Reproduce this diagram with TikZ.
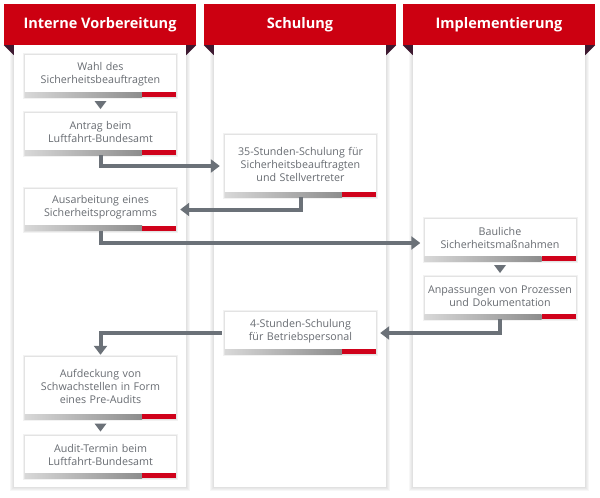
\documentclass[tikz,border=0pt]{standalone}
\usepackage{fontspec}
\setmainfont{Open Sans}
\usetikzlibrary{arrows.meta,calc}

\definecolor{headred}{HTML}{CC0011}
\definecolor{barred}{HTML}{D0021B}
\definecolor{folddark}{HTML}{3D1930}
\definecolor{txtgray}{HTML}{686C72}
\definecolor{flowgray}{HTML}{6B7178}
\definecolor{barlight}{HTML}{D8D8D8}
\definecolor{bardark}{HTML}{8C8C8C}

\begin{document}
\begin{tikzpicture}[x=1pt,y=-1pt,
  colhead/.style={fill=headred,text=white,font=\fontsize{14.5}{16}\selectfont\bfseries,
    minimum width=192pt,minimum height=41pt,inner sep=0pt},
  stepbox/.style={fill=white,text=txtgray,font=\fontsize{10.7}{13}\selectfont,
    text width=150pt,align=center,minimum width=151pt,minimum height=42pt,inner sep=0pt,
    execute at end node={\endgraf\vskip4pt\hrule height0pt width0pt},
    preaction={draw=black,draw opacity=.05,line width=4pt},
    preaction={draw=black,draw opacity=.06,line width=2pt}},
  tallbox/.style={stepbox,minimum height=62pt},
  flow/.style={draw=flowgray,line width=4pt,-{Triangle[length=9pt,width=13pt]}}]
\useasboundingbox (0,0) rectangle (600,498);

% column heads
\node[colhead] (vorb) at (100,24.5) {Interne Vorbereitung};
\node[colhead] (schul) at (300,24.5) {Schulung};
\node[colhead] (impl) at (499,24.5) {Implementierung};

% column bodies with shadow and folds
\foreach \h in {vorb,schul,impl}{
  \foreach \s in {4,3,2,1}
    \fill[black,opacity=.03] ($(\h.south west)+(10-\s,0)$) rectangle ($(\h.south east)+(-10+\s,442+\s)$);
  \fill[white] ($(\h.south west)+(10,0)$) rectangle ($(\h.south east)+(-10,442)$);
  \fill[folddark] (\h.south west) -- ++(10,0) -- ++(0,10) -- cycle;
  \fill[folddark] (\h.south east) -- ++(-10,0) -- ++(0,10) -- cycle;
}

% steps
\node[stepbox] (wahl) at (100.5,76) {Wahl des\\Sicherheitsbeauftragten};
\node[stepbox] (antrag) at (100.5,134) {Antrag beim\\Luftfahrt-Bundesamt};
\node[tallbox] (schulungA) at (300.5,166) {35-Stunden-Schulung für\\Sicherheitsbeauftragten\\und Stellvertreter};
\node[stepbox] (ausarb) at (100.5,209.5) {Ausarbeitung eines\\Sicherheitsprogramms};
\node[stepbox] (baulich) at (500,240) {Bauliche\\Sicherheitsmaßnahmen};
\node[stepbox] (anpass) at (500,298) {Anpassungen von Prozessen\\und Dokumentation};
\node[stepbox] (schulungB) at (300.5,333) {4-Stunden-Schulung\\für Betriebspersonal};
\node[tallbox] (aufdeck) at (100.5,388) {Aufdeckung von\\Schwachstellen in Form\\eines Pre-Audits};
\node[stepbox] (audit) at (100.5,457) {Audit-Termin beim\\Luftfahrt-Bundesamt};

% bars
\foreach \n in {wahl,antrag,schulungA,ausarb,baulich,anpass,schulungB,aufdeck,audit}{
  \shade[left color=barlight,right color=bardark] (\n.south west) rectangle ($(\n.south east)+(-34,-5)$);
  \fill[barred] ($(\n.south east)+(-34,0)$) rectangle ($(\n.south east)+(0,-5)$);
}

% small arrows
\foreach \a/\b in {wahl/antrag,baulich/anpass,aufdeck/audit}
  \fill[flowgray] ($(\a.south)!.5!(\b.north)$) +(-6,-4) -- +(6,-4) -- +(0,4) -- cycle;

% flow
\draw[flow,shorten >=5pt] (antrag.south) |- (schulungA.west);
\draw[flow,shorten >=4pt] (schulungA.south) |- (ausarb.east);
\draw[flow,shorten >=4pt] (ausarb.south) |- ([yshift=-3pt]baulich.west);
\draw[flow,shorten >=4pt] (anpass.south) |- (schulungB.east);
\draw[flow,shorten <=3pt,shorten >=2pt] (schulungB.west) -| (aufdeck.north);
\end{tikzpicture}
\end{document}
